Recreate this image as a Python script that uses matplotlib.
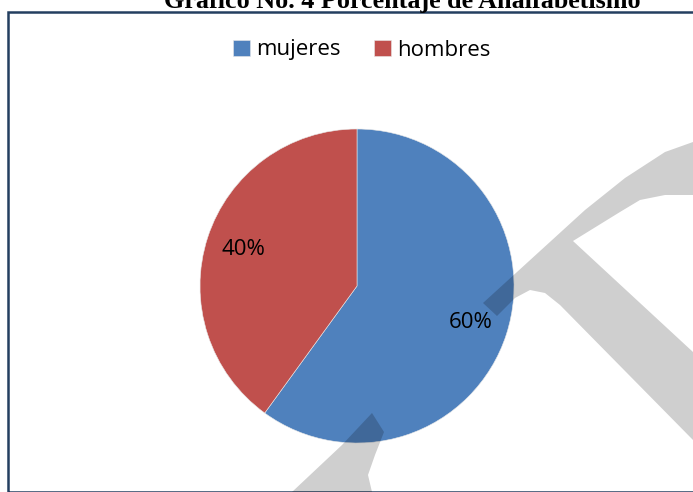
import matplotlib.pyplot as plt
from matplotlib.patches import Rectangle, Polygon

# data
labels = ['mujeres', 'hombres']
values = [60, 40]
colors = ['#4F81BD', '#C0504D']
title = 'Gráfico No. 4 Porcentaje de Analfabetismo'

W, H = 693, 492
fig = plt.figure(figsize=(W / 100, H / 100), dpi=100)


def fx(x):
    return x / W


def fy(y):
    return 1 - y / H


# chart frame
fig.patches.append(Rectangle((fx(8), fy(492)), fx(700) - fx(8), fy(12) - fy(492),
                             transform=fig.transFigure, fill=False,
                             edgecolor='#243F60', linewidth=1.8, zorder=0))

# title, cut off at the top like in the scan
fig.text(fx(402), fy(8), title, ha='center', va='baseline',
         fontsize=18.8, fontweight='bold', family='Liberation Serif')

# pie
ax = fig.add_axes([fx(200), fy(443), fx(514) - fx(200), fy(129) - fy(443)])
wedges, texts, autotexts = ax.pie(values, colors=colors, startangle=90,
                                  counterclock=False, autopct='%1.0f%%',
                                  pctdistance=0.76,
                                  wedgeprops=dict(linewidth=0.4, edgecolor='#e8e8e8'),
                                  textprops=dict(fontsize=16, family='Open Sans'))
ax.set_xlim(-1, 1)
ax.set_ylim(-1, 1)
ax.set_aspect('equal')

# legend
leg = fig.legend(wedges, labels, loc='center', bbox_to_anchor=(fx(362), fy(50)),
                 ncol=2, frameon=False, handlelength=0.75, handleheight=0.75,
                 handletextpad=0.3, columnspacing=1.5,
                 prop=dict(size=16, family='Open Sans'))

# grey watermark from the scanned page
shapes = [
    [(483, 303), (585, 210), (625, 178), (665, 152), (693, 142), (693, 195),
     (665, 195), (640, 200), (620, 212), (573, 241), (693, 352), (693, 440),
     (560, 305), (545, 293), (530, 290), (515, 298), (497, 316)],
    [(372, 413), (384, 432), (375, 455), (368, 475), (372, 492),
     (292, 492), (342, 445)],
]
for pts in shapes:
    fig.patches.append(Polygon([(fx(x), fy(y)) for x, y in pts], closed=True,
                               transform=fig.transFigure, facecolor='black',
                               edgecolor='none', alpha=0.19, zorder=5))

fig.savefig('out.png', dpi=100)
